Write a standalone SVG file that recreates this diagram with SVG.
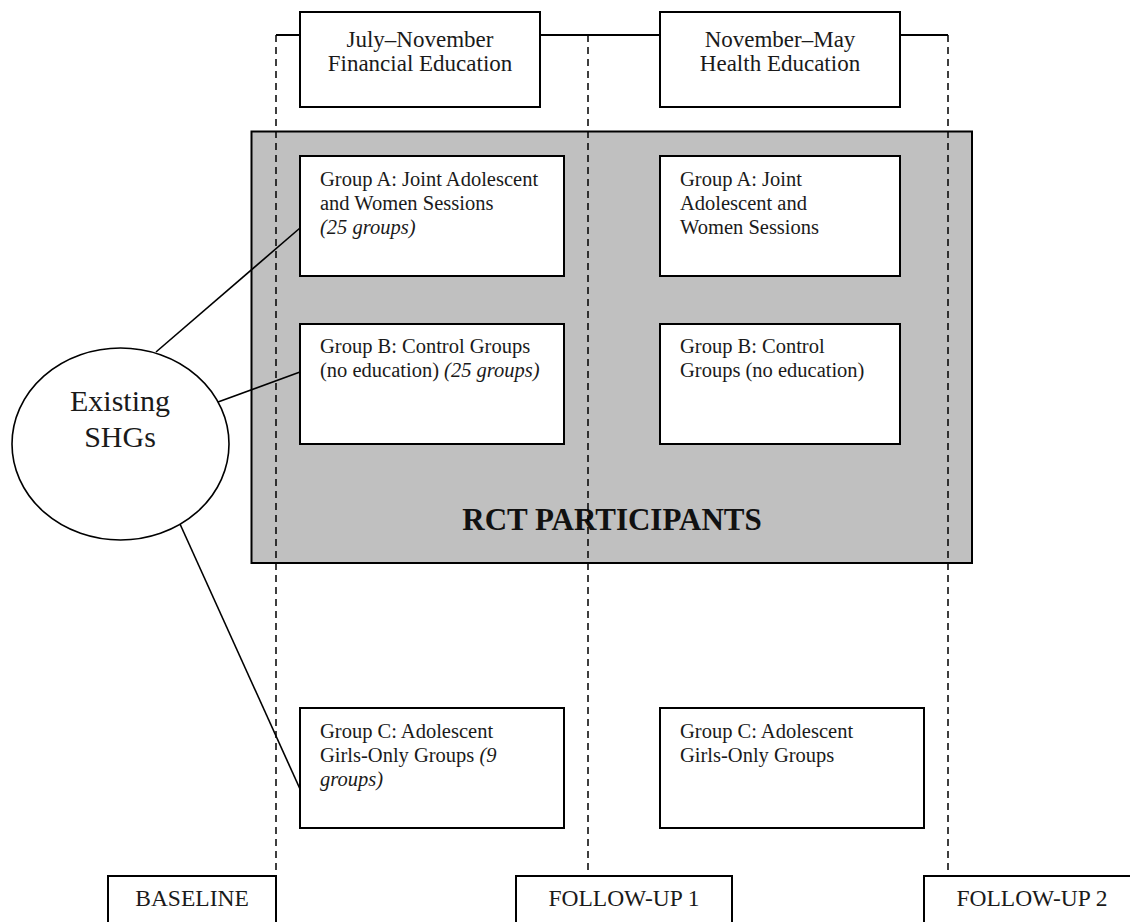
<svg xmlns="http://www.w3.org/2000/svg" width="1130" height="922" viewBox="0 0 1130 922">
<style>
.box{fill:#ffffff;stroke:#000000;stroke-width:2}
.t{font-family:"Liberation Serif","Times New Roman",serif;font-size:20.5px;fill:#1a1a1a}
.th{font-family:"Liberation Serif","Times New Roman",serif;font-size:23px;fill:#1a1a1a}
.it{font-style:italic}
.dash{fill:none;stroke:#000000;stroke-width:1.5;stroke-dasharray:7 5}
.solid{fill:none;stroke:#000000;stroke-width:2}
.conn{fill:none;stroke:#000000;stroke-width:1.6}
</style>
<rect width="1130" height="922" fill="#ffffff"/>
<g id="rct-participants">
  <rect x="251.5" y="131.5" width="720.5" height="431.5" fill="#c0c0c0" stroke="#000000" stroke-width="2"/>
  <text x="612" y="530" text-anchor="middle" style="font-family:'Liberation Serif','Times New Roman',serif;font-size:31px;font-weight:bold;fill:#111">RCT PARTICIPANTS</text>
</g>
<g id="connectors">
  <path class="solid" d="M276 35 H300 M540 35 H660 M900 35 H948"/>
  <path class="dash" d="M276 35 V876 M588 35 V876 M948 35 V876"/>
  <line class="conn" x1="156" y1="352" x2="300" y2="228"/>
  <line class="conn" x1="218" y1="402" x2="300" y2="372"/>
  <line class="conn" x1="180" y1="524" x2="300" y2="789"/>
</g>
<g id="july-november">
  <rect class="box" x="300" y="12" width="240" height="95"/>
  <text class="th" x="420" y="47" text-anchor="middle">July–November</text>
  <text class="th" x="420" y="71" text-anchor="middle">Financial Education</text>
</g>
<g id="november-may">
  <rect class="box" x="660" y="12" width="240" height="95"/>
  <text class="th" x="780" y="47" text-anchor="middle">November–May</text>
  <text class="th" x="780" y="71" text-anchor="middle">Health Education</text>
</g>
<g id="group-a-1">
  <rect class="box" x="300" y="156" width="264" height="120"/>
  <text class="t" x="320" y="186">Group A: Joint Adolescent</text>
  <text class="t" x="320" y="210">and Women Sessions</text>
  <text class="t it" x="320" y="234">(25 groups)</text>
</g>
<g id="group-a-2">
  <rect class="box" x="660" y="156" width="240" height="120"/>
  <text class="t" x="680" y="186">Group A: Joint</text>
  <text class="t" x="680" y="210">Adolescent and</text>
  <text class="t" x="680" y="234">Women Sessions</text>
</g>
<g id="group-b-1">
  <rect class="box" x="300" y="324" width="264" height="120"/>
  <text class="t" x="320" y="353">Group B: Control Groups</text>
  <text class="t" x="320" y="377">(no education) <tspan class="it">(25 groups)</tspan></text>
</g>
<g id="group-b-2">
  <rect class="box" x="660" y="324" width="240" height="120"/>
  <text class="t" x="680" y="353">Group B: Control</text>
  <text class="t" x="680" y="377">Groups (no education)</text>
</g>
<g id="group-c-1">
  <rect class="box" x="300" y="708" width="264" height="120"/>
  <text class="t" x="320" y="738">Group C: Adolescent</text>
  <text class="t" x="320" y="762">Girls-Only Groups <tspan class="it">(9</tspan></text>
  <text class="t it" x="320" y="786">groups)</text>
</g>
<g id="group-c-2">
  <rect class="box" x="660" y="708" width="264" height="120"/>
  <text class="t" x="680" y="738">Group C: Adolescent</text>
  <text class="t" x="680" y="762">Girls-Only Groups</text>
</g>
<g id="existing-shgs">
  <ellipse cx="120.5" cy="444" rx="108.5" ry="96" fill="#ffffff" stroke="#000000" stroke-width="1.6"/>
  <text x="120" y="411" text-anchor="middle" style="font-family:'Liberation Serif','Times New Roman',serif;font-size:30px;fill:#1a1a1a">Existing</text>
  <text x="120" y="447" text-anchor="middle" style="font-family:'Liberation Serif','Times New Roman',serif;font-size:30px;fill:#1a1a1a">SHGs</text>
</g>
<g id="baseline">
  <rect class="box" x="108" y="876" width="168" height="60"/>
  <text class="th" x="192" y="906" text-anchor="middle" style="font-size:23.5px">BASELINE</text>
</g>
<g id="follow-up-1">
  <rect class="box" x="516" y="876" width="216" height="60"/>
  <text class="th" x="624" y="906" text-anchor="middle" style="font-size:23.5px">FOLLOW-UP 1</text>
</g>
<g id="follow-up-2">
  <rect class="box" x="924" y="876" width="216" height="60"/>
  <text class="th" x="1032" y="906" text-anchor="middle" style="font-size:23.5px">FOLLOW-UP 2</text>
</g>
</svg>
